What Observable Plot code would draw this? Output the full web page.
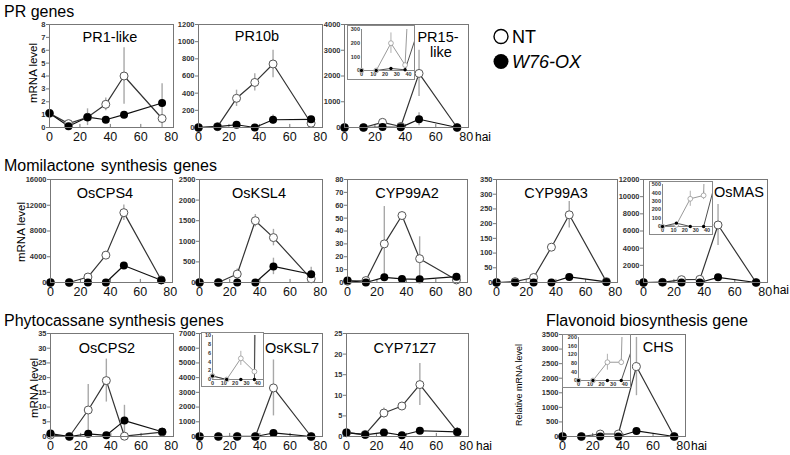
<!DOCTYPE html>
<html><head><meta charset="utf-8">
<script src="https://cdn.jsdelivr.net/npm/d3@7"></script>
<script src="https://cdn.jsdelivr.net/npm/@observablehq/plot@0.6"></script>
<style>
body{margin:0;background:#fff;}
#root{position:relative;width:790px;height:455px;overflow:hidden;font-family:"Liberation Sans",Arial,sans-serif;background:#fff}
#root svg{font-family:"Liberation Sans",Arial,sans-serif}
</style></head><body><div id="root"></div>
<script>
// sampling times (hours after inoculation), as placed in the picture
const hai = [0, 12.5, 25, 37, 49, 74];
const xTicks = [0, 20, 40, 60, 80];
const insetXTicks = [0, 10, 20, 30, 40];

// ---- PR genes ----
const pr1NT = [1.1, 0.3, 0.8, 1.8, 4.0, 0.7];
const pr1NTerr = [0, 0, 0, 0.5, 2.2, 2.7];
const pr1OX = [1.1, 0.1, 0.8, 0.6, 1.0, 1.9];
const pr1OXerr = [0, 0, 0.65, 0, 0, 0];

const pr10NT = [0, 10, 340, 525, 740, 50];
const pr10NTerr = [0, 0, 95, 100, 160, 0];
const pr10OX = [0, 10, 32, 0, 90, 95];
const pr10OXerr = [0, 0, 0, 0, 55, 0];

const pr15NT = [0, 0, 200, 40, 2100, 0];
const pr15NTerr = [0, 0, 75, 0, 900, 0];
const pr15OX = [0, 0, 15, 5, 320, 0];
const pr15OXerr = [0, 0, 0, 0, 250, 0];

// ---- Momilactone synthesis genes ----
const cps4NT = [0, 0, 850, 4250, 10850, 400];
const cps4NTerr = [0, 0, 0, 0, 1200, 0];
const cps4OX = [0, 0, 0, 0, 2650, 350];
const cps4OXerr = [0, 0, 0, 0, 0, 0];

const ksl4NT = [0, 0, 205, 1500, 1090, 90];
const ksl4NTerr = [0, 0, 120, 150, 200, 0];
const ksl4OX = [0, 0, 0, 0, 390, 200];
const ksl4OXerr = [0, 0, 0, 0, 200, 170];

const a2NT = [1, 1.5, 30, 52, 18.5, 2];
const a2NTerr = [0, 0, 29, 2, 17, 4];
const a2OX = [1.5, 0, 4, 2.8, 2.5, 4.5];
const a2OXerr = [0, 0, 0, 0, 0, 0];

const a3NT = [0, 3, 17, 120, 230, 3];
const a3NTerr = [0, 0, 0, 0, 45, 0];
const a3OX = [0, 0, 0, 0, 19, 2];
const a3OXerr = [0, 0, 0, 0, 0, 0];

const masNT = [0, 20, 330, 370, 6700, 0];
const masNTerr = [0, 0, 90, 50, 2400, 0];
const masOX = [0, 40, 0, 0, 600, 0];
const masOXerr = [0, 0, 0, 0, 0, 0];

// ---- Phytocassane synthesis genes ----
const cps2NT = [0.5, 0, 9, 19, 0.1, 1.5];
const cps2NTerr = [0, 0, 8.7, 7.3, 0, 1];
const cps2OX = [1, 0, 0.9, 0.4, 5.4, 1.6];
const cps2OXerr = [0, 0, 0, 0, 5.2, 0.8];

const ksl7NT = [0.8, 0, 4.8, 1.8, 3300, 0];
const ksl7NTerr = [0, 0, 1.6, 0, 1900, 0];
const ksl7OX = [0.8, 0, 0, 0, 240, 0];
const ksl7OXerr = [0, 0, 0, 0, 0, 0];

const z7NT = [0.9, 0.5, 5.7, 7.4, 12.6, 1.1];
const z7NTerr = [0, 0, 1.2, 0, 5.1, 1.1];
const z7OX = [1, 0.4, 1, 0.3, 1.4, 1.1];
const z7OXerr = [0, 0, 0, 0, 0, 0];

// ---- Flavonoid biosynthesis gene ----
const chsNT = [0, 0, 85, 85, 2400, 0];
const chsNTerr = [0, 0, 37, 15, 1000, 0];
const chsOX = [0, 0, 0, 0, 190, 0];
const chsOXerr = [0, 0, 0, 0, 0, 0];

// ---- text ----
const sectionTitles = ["PR genes", "Momilactone synthesis genes", "Phytocassane synthesis genes", "Flavonoid biosynthesis gene"];
const legendLabels = ["NT", "W76-OX"];
const yLabel = "mRNA level";
const yLabelRel = "Relative mRNA level";
const xUnit = "hai";

const root = document.getElementById("root");
const FONT = '"Liberation Sans", Arial, sans-serif';

function rows(nt, ntErr, ox, oxErr) {
  return hai.map((t, i) => ({
    t, nt: nt[i], ox: ox[i],
    ntLo: Math.max(0, nt[i] - ntErr[i]), ntHi: nt[i] + ntErr[i], ntE: ntErr[i],
    oxLo: Math.max(0, ox[i] - oxErr[i]), oxHi: ox[i] + oxErr[i], oxE: oxErr[i]
  }));
}

function place(node, left, top) {
  const d = document.createElement("div");
  d.style.cssText = `position:absolute;left:${left}px;top:${top}px;line-height:0;`;
  d.appendChild(node);
  root.appendChild(d);
}

function panel(o) {
  const [L, T, R, B] = o.frame;
  const mL = 34, mR = 3, mT = 3, mB = 22;
  const data = rows(o.nt, o.ntErr, o.ox, o.oxErr);
  const p = Plot.plot({
    width: R - L + mL + mR, height: B - T + mT + mB,
    marginLeft: mL, marginRight: mR, marginTop: mT, marginBottom: mB,
    x: {domain: [0, 81.5], label: null},
    y: {domain: [0, o.yMax], label: null},
    style: {background: "transparent", overflow: "visible", fontFamily: FONT, color: "#222"},
    marks: [
      Plot.ruleX(xTicks.slice(1, -1), {y1: 0, y2: o.yMax * 0.03, stroke: "#777"}),
      Plot.axisY({ticks: d3.range(0, o.yMax + o.yStep / 2, o.yStep), tickSize: 3, tickPadding: 1, label: null,
        fontSize: 7.5, fontWeight: "bold", tickFormat: d => String(d), stroke: "#777", fill: "#333"}),
      Plot.axisX({ticks: xTicks, tickSize: 0, tickPadding: 5, fontSize: 12.5, label: null,
        tickFormat: d => String(d), fill: "#111"}),
      Plot.ruleX(data.filter(d => d.ntE > 0), {x: "t", y1: "ntLo", y2: "ntHi", stroke: "#a8a8a8", strokeWidth: 1.4}),
      Plot.ruleX(data.filter(d => d.oxE > 0), {x: "t", y1: "oxLo", y2: "oxHi", stroke: "#a8a8a8", strokeWidth: 1.4}),
      Plot.line(data, {x: "t", y: "nt", stroke: "#333", strokeWidth: 1.2}),
      Plot.line(data, {x: "t", y: "ox", stroke: "#111", strokeWidth: 1.2}),
      Plot.dot(data, {x: "t", y: "nt", r: 4, fill: "white", stroke: "#555", strokeWidth: 1}),
      Plot.dot(data, {x: "t", y: "ox", r: 4, fill: "#000"}),
      Plot.frame({stroke: "#777"})
    ]
  });
  place(p, L - mL, T - mT);
}

function inset(o) {
  const [L, T, R, B] = o.box;
  const data = rows(o.nt, o.ntErr, o.ox, o.oxErr);
  const shown = data.filter(d => d.t <= 40);
  const p = Plot.plot({
    width: R - L, height: B - T,
    marginLeft: o.mL, marginRight: 0, marginTop: o.mT, marginBottom: o.mB,
    x: {domain: [0, 45], label: null},
    y: {domain: [0, o.yMax], label: null},
    style: {background: "white", outline: "1px solid #888", overflow: "hidden", fontFamily: FONT},
    marks: [
      Plot.ruleX([0], {stroke: "#888"}),
      Plot.ruleY([0], {stroke: "#888"}),
      Plot.axisY({ticks: d3.range(0, o.yMax + o.yStep / 2, o.yStep), tickSize: 0, tickPadding: 1.5, label: null,
        fontSize: 5.5, fontWeight: "bold", tickFormat: d => String(d), fill: "#333"}),
      Plot.axisX({ticks: insetXTicks, tickSize: 0, tickPadding: 1.5, fontSize: 5.5, fontWeight: "bold", label: null,
        tickFormat: d => String(d), fill: "#333"}),
      Plot.ruleX(data.filter(d => d.ntE > 0), {x: "t", y1: "ntLo", y2: "ntHi", stroke: "#b0b0b0", strokeWidth: 1, clip: true}),
      Plot.line(data, {x: "t", y: "nt", stroke: "#999", strokeWidth: 1, clip: true}),
      Plot.line(data, {x: "t", y: "ox", stroke: "#222", strokeWidth: 0.8, clip: true}),
      Plot.dot(shown, {x: "t", y: "nt", r: 2.4, fill: "white", stroke: "#999", strokeWidth: 0.8}),
      Plot.dot(shown, {x: "t", y: "ox", r: 1.7, fill: "#000"})
    ]
  });
  place(p, L, T);
}

// Row 1
panel({frame: [49, 24, 173, 127], yMax: 8, yStep: 1, nt: pr1NT, ntErr: pr1NTerr, ox: pr1OX, oxErr: pr1OXerr});
panel({frame: [198, 24, 322, 127], yMax: 1200, yStep: 200, nt: pr10NT, ntErr: pr10NTerr, ox: pr10OX, oxErr: pr10OXerr});
panel({frame: [344, 24, 468, 127], yMax: 4000, yStep: 1000, nt: pr15NT, ntErr: pr15NTerr, ox: pr15OX, oxErr: pr15OXerr});
// Row 2
panel({frame: [50, 179, 172, 282], yMax: 16000, yStep: 4000, nt: cps4NT, ntErr: cps4NTerr, ox: cps4OX, oxErr: cps4OXerr});
panel({frame: [199, 179, 322, 282], yMax: 2500, yStep: 500, nt: ksl4NT, ntErr: ksl4NTerr, ox: ksl4OX, oxErr: ksl4OXerr});
panel({frame: [347, 179, 467, 282], yMax: 80, yStep: 10, nt: a2NT, ntErr: a2NTerr, ox: a2OX, oxErr: a2OXerr});
panel({frame: [496, 179, 617, 282], yMax: 350, yStep: 50, nt: a3NT, ntErr: a3NTerr, ox: a3OX, oxErr: a3OXerr});
panel({frame: [643, 179, 767, 282], yMax: 12000, yStep: 2000, nt: masNT, ntErr: masNTerr, ox: masOX, oxErr: masOXerr});
// Row 3
panel({frame: [50, 333, 173, 436], yMax: 35, yStep: 5, nt: cps2NT, ntErr: cps2NTerr, ox: cps2OX, oxErr: cps2OXerr});
panel({frame: [199, 333, 322, 436], yMax: 7000, yStep: 1000, nt: ksl7NT, ntErr: ksl7NTerr, ox: ksl7OX, oxErr: ksl7OXerr});
panel({frame: [346, 333, 468, 436], yMax: 25, yStep: 5, nt: z7NT, ntErr: z7NTerr, ox: z7OX, oxErr: z7OXerr});
panel({frame: [562, 334, 685, 436], yMax: 3500, yStep: 500, nt: chsNT, ntErr: chsNTerr, ox: chsOX, oxErr: chsOXerr});

// Insets
inset({box: [348, 26, 414, 79], mL: 13, mT: 3, mB: 9, yMax: 300, yStep: 100, nt: pr15NT, ntErr: pr15NTerr, ox: pr15OX, oxErr: pr15OXerr});
inset({box: [650, 182, 712, 234], mL: 12, mT: 2, mB: 8, yMax: 500, yStep: 100, nt: masNT, ntErr: masNTerr, ox: masOX, oxErr: masOXerr});
inset({box: [202, 333, 263, 386], mL: 10, mT: 2, mB: 7, yMax: 10, yStep: 2, nt: ksl7NT, ntErr: ksl7NTerr, ox: ksl7OX, oxErr: ksl7OXerr});
inset({box: [563, 335, 630, 387], mL: 15, mT: 2, mB: 7, yMax: 200, yStep: 40, nt: chsNT, ntErr: chsNTerr, ox: chsOX, oxErr: chsOXerr});

// Text overlay
const ov = d3.create("svg").attr("width", 790).attr("height", 455)
  .style("position", "absolute").style("left", 0).style("top", 0).style("pointer-events", "none")
  .style("font-family", FONT);
const titlePos = [[4, 16.5], [4, 171], [4, 326], [546, 326]];
sectionTitles.forEach((t, i) => ov.append("text").attr("x", titlePos[i][0]).attr("y", titlePos[i][1])
  .attr("font-size", 16).attr("word-spacing", i === 1 ? 1.5 : 0).attr("fill", "#000").text(t));

const geneNames = ["PR1-like", "PR10b", "PR15-", "like", "OsCPS4", "OsKSL4", "CYP99A2", "CYP99A3", "OsMAS", "OsCPS2", "OsKSL7", "CYP71Z7", "CHS"];
const genePos = [[110, 42], [257, 41], [438, 42], [441, 57], [105, 198], [259, 198], [407, 198], [556, 198], [739, 197], [107, 353], [292, 353], [405, 353], [658, 352]];
geneNames.forEach((t, i) => ov.append("text").attr("x", genePos[i][0]).attr("y", genePos[i][1])
  .attr("text-anchor", "middle").attr("font-size", 14.5).attr("fill", "#000").text(t));

const yLabPos = [[33, 73], [21, 232], [34, 388]];
yLabPos.forEach(([x, y]) => ov.append("text").attr("transform", `translate(${x},${y}) rotate(-90)`)
  .attr("text-anchor", "middle").attr("dy", "0.35em").attr("font-size", 11.5).text(yLabel));
ov.append("text").attr("transform", "translate(519,385) rotate(-90)").attr("text-anchor", "middle")
  .attr("dy", "0.35em").attr("font-size", 9).text(yLabelRel);

[[475, 141], [773, 294], [476, 450], [691, 450]].forEach(([x, y]) => ov.append("text")
  .attr("x", x).attr("y", y).attr("font-size", 12).text(xUnit));

// legend
ov.append("circle").attr("cx", 501).attr("cy", 36.5).attr("r", 7).attr("fill", "white").attr("stroke", "#000").attr("stroke-width", 1.4);
ov.append("circle").attr("cx", 501).attr("cy", 61.5).attr("r", 7.5).attr("fill", "#000");
ov.append("text").attr("x", 512).attr("y", 43).attr("font-size", 18).text(legendLabels[0]);
ov.append("text").attr("x", 512).attr("y", 68).attr("font-size", 18).attr("font-style", "italic").text(legendLabels[1]);
root.appendChild(ov.node());
</script></body></html>
